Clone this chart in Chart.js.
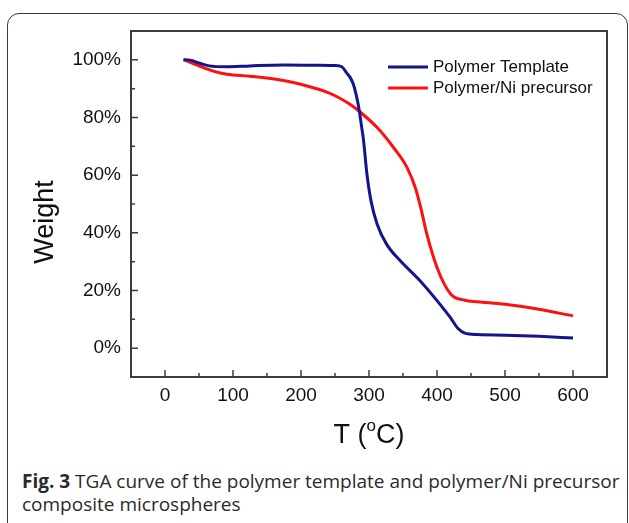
<!DOCTYPE html>
<html>
<head>
<meta charset="utf-8">
<script src="https://cdn.jsdelivr.net/npm/chart.js@4.4.1/dist/chart.umd.min.js"></script>
<style>
  html, body { margin: 0; padding: 0; background: #fff; }
  body { width: 629px; height: 523px; position: relative; overflow: hidden; }
  #frame { position: absolute; left: 7px; top: 13px; width: 621px; height: 560px;
           border: 1.5px solid #3a3a3a; border-radius: 12px; box-sizing: border-box; }
  #wrap { position: absolute; left: 0; top: 0; width: 629px; height: 460px; }
  #caption { position: absolute; left: 22px; top: 470px; width: 606px;
             font-family: "Open Sans", sans-serif; font-size: 19px; line-height: 23px; color: #2a2a2a; }
  #caption b { font-weight: 700; }
</style>
</head>
<body>
<div id="frame"></div>
<div id="wrap"><canvas id="c" width="629" height="460"></canvas></div>
<div id="caption"><b>Fig. 3</b> TGA curve of the polymer template and polymer/Ni precursor<br>composite microspheres</div>
<script>
// ---- data ----
const templateT = [27, 37, 50, 65, 90, 125, 175, 225, 250, 260, 267, 272, 277, 281, 285, 289, 292, 297, 303, 312, 326, 346, 375, 400, 420, 431, 441, 460, 500, 550, 600];
const templateW = [100, 99.9, 98.9, 97.9, 97.6, 97.9, 98.2, 98.1, 98.0, 97.6, 95.5, 94.0, 91.5, 88.0, 83.4, 77.0, 72.0, 60.3, 51.0, 43.0, 36.0, 30.3, 23.4, 16.5, 10.5, 6.8, 5.2, 4.7, 4.5, 4.1, 3.5];
const precursorT = [28, 50, 71, 91, 125, 174, 209, 238, 253, 272, 287, 312, 336, 356, 368, 376, 385, 400, 420, 441, 460, 500, 550, 600];
const precursorW = [100, 97.9, 96.1, 95.0, 94.3, 92.8, 90.9, 88.8, 87.2, 84.6, 81.9, 76.5, 69.6, 62.6, 55.7, 48.8, 39.6, 28.0, 18.8, 16.6, 16.1, 15.2, 13.5, 11.2];
const seriesNames = ["Polymer Template", "Polymer/Ni precursor"];
const xTicks = [0, 100, 200, 300, 400, 500, 600];
const xMinorTicks = [50, 150, 250, 350, 450, 550];
const yTicks = [0, 20, 40, 60, 80, 100];
const yMinorTicks = [10, 30, 50, 70, 90];
const xTitle = ["T (", "o", "C)"];
const yTitle = "Weight";

const toPts = (xs, ys) => xs.map((x, i) => ({ x: x, y: ys[i] }));
const FONT = "'Liberation Sans', Arial, sans-serif";
const AXIS_COLOR = '#3c3c3c';

const framePlugin = {
  id: 'framePlugin',
  afterDatasetsDraw(chart) {
    const { ctx, chartArea: a, scales } = chart;
    ctx.save();
    ctx.strokeStyle = AXIS_COLOR;
    ctx.lineWidth = 2;
    ctx.strokeRect(a.left, a.top, a.right - a.left, a.bottom - a.top);
    ctx.lineWidth = 1.5;
    ctx.beginPath();
    xTicks.forEach(v => { const p = scales.x.getPixelForValue(v); ctx.moveTo(p, a.bottom); ctx.lineTo(p, a.bottom - 7); });
    xMinorTicks.forEach(v => { const p = scales.x.getPixelForValue(v); ctx.moveTo(p, a.bottom); ctx.lineTo(p, a.bottom - 4); });
    yTicks.forEach(v => { const p = scales.y.getPixelForValue(v); ctx.moveTo(a.left, p); ctx.lineTo(a.left + 7, p); });
    yMinorTicks.forEach(v => { const p = scales.y.getPixelForValue(v); ctx.moveTo(a.left, p); ctx.lineTo(a.left + 4, p); });
    ctx.stroke();

    // legend
    const colors = chart.data.datasets.map(d => d.borderColor);
    ctx.font = '17px ' + FONT;
    ctx.fillStyle = '#111';
    ctx.textBaseline = 'middle';
    ctx.textAlign = 'left';
    seriesNames.forEach((name, i) => {
      const y = 67 + i * 21;
      ctx.strokeStyle = colors[i];
      ctx.lineWidth = 3;
      ctx.beginPath(); ctx.moveTo(388, y); ctx.lineTo(428, y); ctx.stroke();
      ctx.fillText(name, 433, y);
    });

    // axis titles
    ctx.fillStyle = '#111';
    ctx.font = '27px ' + FONT;
    ctx.textBaseline = 'alphabetic';
    const w1 = ctx.measureText(xTitle[0]).width;
    ctx.font = '17px ' + FONT;
    const w2 = ctx.measureText(xTitle[1]).width;
    ctx.font = '27px ' + FONT;
    const w3 = ctx.measureText(xTitle[2]).width;
    const cx = (a.left + a.right) / 2;
    let x0 = cx - (w1 + w2 + w3) / 2;
    ctx.fillText(xTitle[0], x0, 443);
    ctx.font = '17px ' + FONT;
    ctx.fillText(xTitle[1], x0 + w1, 431);
    ctx.font = '27px ' + FONT;
    ctx.fillText(xTitle[2], x0 + w1 + w2, 443);

    ctx.translate(46, 222);
    ctx.rotate(-Math.PI / 2);
    ctx.textAlign = 'center';
    ctx.textBaseline = 'middle';
    ctx.font = '27px ' + FONT;
    ctx.fillText(yTitle, 0, 0);
    ctx.restore();
  }
};

new Chart(document.getElementById('c'), {
  type: 'line',
  data: {
    datasets: [
      { label: seriesNames[0], data: toPts(templateT, templateW), borderColor: '#14148c', borderWidth: 3,
        pointRadius: 0, fill: false, cubicInterpolationMode: 'monotone' },
      { label: seriesNames[1], data: toPts(precursorT, precursorW), borderColor: '#ff1010', borderWidth: 3,
        pointRadius: 0, fill: false, cubicInterpolationMode: 'monotone' }
    ]
  },
  options: {
    responsive: false,
    devicePixelRatio: 1,
    animation: false,
    layout: { padding: { left: 0, top: 31, right: 22, bottom: 0 } },
    plugins: { legend: { display: false }, tooltip: { enabled: false } },
    scales: {
      x: {
        type: 'linear', min: -50, max: 650,
        afterFit: s => { s.height = 83; },
        afterBuildTicks: s => { s.ticks = xTicks.map(v => ({ value: v })); },
        grid: { display: false, drawTicks: false },
        border: { display: false },
        ticks: { padding: 7, color: '#111', font: { family: FONT, size: 19 }, maxRotation: 0 }
      },
      y: {
        type: 'linear', min: -10, max: 110,
        afterFit: s => { s.width = 131; },
        afterBuildTicks: s => { s.ticks = yTicks.map(v => ({ value: v })); },
        grid: { display: false, drawTicks: false },
        border: { display: false },
        ticks: { padding: 10, color: '#111', font: { family: FONT, size: 19 }, callback: v => v + '%' }
      }
    }
  },
  plugins: [framePlugin]
});
</script>
</body>
</html>
